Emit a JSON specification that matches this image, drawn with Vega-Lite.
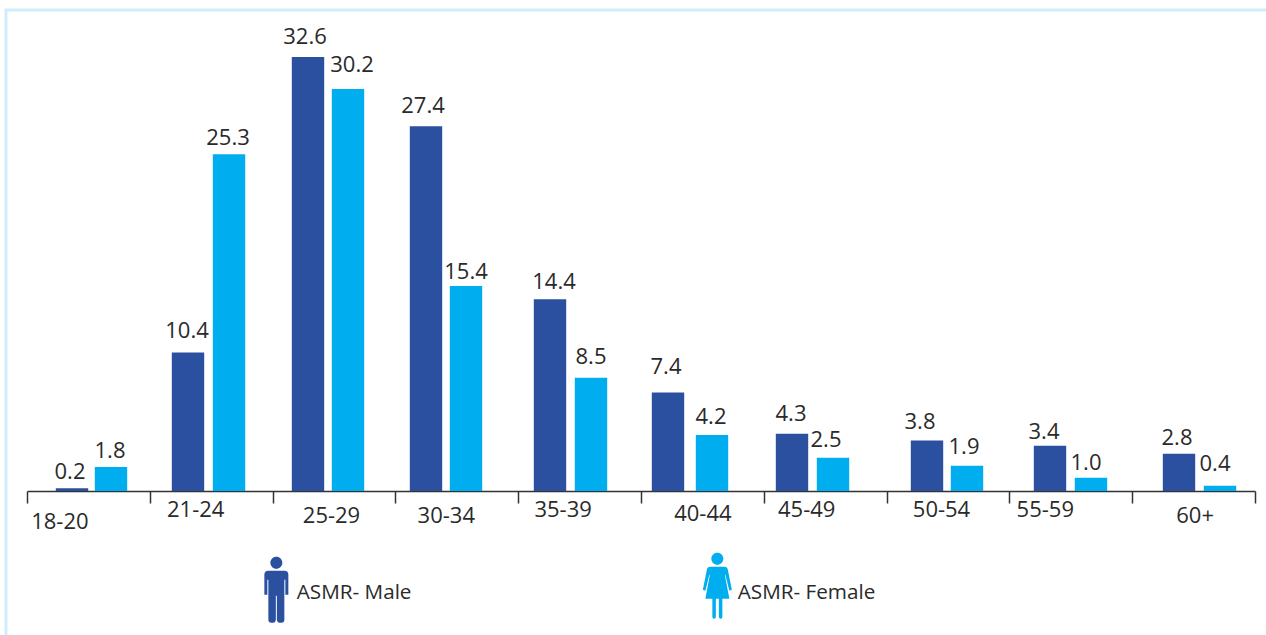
{
"$schema":"https://vega.github.io/schema/vega-lite/v6.json",
"autosize":{"type":"none"},
"padding":{"left":6,"top":10,"right":0,"bottom":0},
"width":1270,"height":640,
"background":"white",
"config":{"view":{"stroke":"#cdeefc","strokeWidth":3},"font":"Open Sans"},
"data":{"values":[
{"age":"18-20","sex":"ASMR- Male","value":0.2},{"age":"18-20","sex":"ASMR- Female","value":1.8},
{"age":"21-24","sex":"ASMR- Male","value":10.4},{"age":"21-24","sex":"ASMR- Female","value":25.3},
{"age":"25-29","sex":"ASMR- Male","value":32.6},{"age":"25-29","sex":"ASMR- Female","value":30.2},
{"age":"30-34","sex":"ASMR- Male","value":27.4},{"age":"30-34","sex":"ASMR- Female","value":15.4},
{"age":"35-39","sex":"ASMR- Male","value":14.4},{"age":"35-39","sex":"ASMR- Female","value":8.5},
{"age":"40-44","sex":"ASMR- Male","value":7.4},{"age":"40-44","sex":"ASMR- Female","value":4.2},
{"age":"45-49","sex":"ASMR- Male","value":4.3},{"age":"45-49","sex":"ASMR- Female","value":2.5},
{"age":"50-54","sex":"ASMR- Male","value":3.8},{"age":"50-54","sex":"ASMR- Female","value":1.9},
{"age":"55-59","sex":"ASMR- Male","value":3.4},{"age":"55-59","sex":"ASMR- Female","value":1.0},
{"age":"60+","sex":"ASMR- Male","value":2.8},{"age":"60+","sex":"ASMR- Female","value":0.4}
]},
"encoding":{
"x":{"field":"age","type":"nominal","sort":null,"title":null,"scale":{"range":[21,1249],"paddingInner":0,"paddingOuter":0},
"axis":{"orient":"bottom","offset":-159,"labelAngle":0,"tickBand":"extent","tickSize":12,"tickColor":"#333333","domainColor":"#333333","domainWidth":1.5,"tickWidth":1.5,"labelFontSize":22,"labelColor":"#2a2a2a","labelPadding":-4,"labelFont":"Open Sans",
"encoding":{"labels":{
"dx":{"value":{"expr":"({'18-20':-29,'21-24':-16,'25-29':-3,'30-34':-11,'35-39':-17,'40-44':0,'45-49':-19,'50-54':-7,'55-59':-26,'60+':1})[datum.value]"}},
"dy":{"value":{"expr":"({'18-20':12,'21-24':0,'25-29':6,'30-34':6,'35-39':0,'40-44':4,'45-49':0,'50-54':0,'55-59':0,'60+':6})[datum.value]"}}
}}}},
"y":{"field":"value","type":"quantitative","stack":null,"axis":null,"scale":{"domain":[0,36.14],"range":[481,0],"nice":false,"zero":true}},
"color":{"field":"sex","type":"nominal","sort":["ASMR- Male","ASMR- Female"],"title":null,"scale":{"domain":["ASMR- Male","ASMR- Female"],"range":["#2b50a0","#00aeef"]},
"legend":{"orient":"none","legendX":260,"legendY":572,"direction":"horizontal","symbolSize":4,"labelFontSize":20.7,"labelColor":"#2a2a2a","labelFont":"Open Sans","labelOffset":10,"columnPadding":290,"symbolStrokeWidth":0,"symbolOpacity":1,"padding":0}}
},
"layer":[
{"mark":{"type":"bar","width":32.4,"xOffset":{"expr":"({'18-20':[-16.4,22.6],'21-24':[-23.2,17.8],'25-29':[-26,14],'30-34':[-30.8,9.2],'35-39':[-29.6,11.4],'40-44':[-34.4,9.6],'45-49':[-33.2,7.8],'50-54':[-21,19],'55-59':[-20.8,20.2],'60+':[-14.6,26.4]})[datum.age][datum.sex=='ASMR- Male'?0:1]"}}},
{"mark":{"type":"text","align":"center","baseline":"middle","fontSize":22,
"dx":{"expr":"({'18-20':[-18.4,21.6],'21-24':[-24.2,16.8],'25-29':[-29,18],'30-34':[-33.8,9.2],'35-39':[-25.6,11.4],'40-44':[-36.4,8.6],'45-49':[-34.2,0.8],'50-54':[-28,16],'55-59':[-26.8,15.2],'60+':[-16.6,21.4]})[datum.age][datum.sex=='ASMR- Male'?0:1]"},
"dy":{"expr":"-({'18-20':[16,16],'21-24':[22,16],'25-29':[20,24],'30-34':[20,14],'35-39':[17,21],'40-44':[26,18],'45-49':[20,18],'50-54':[18,19],'55-59':[14,15],'60+':[16,22]})[datum.age][datum.sex=='ASMR- Male'?0:1]"}},
"encoding":{"text":{"field":"value","type":"quantitative","format":".1f"},"color":{"value":"#2a2a2a"}}},
{"mark":{"type":"point","filled":true,"size":0,"opacity":1},
"encoding":{
"shape":{"field":"sex","type":"nominal","sort":["ASMR- Male","ASMR- Female"],"title":null,
"scale":{"domain":["ASMR- Male","ASMR- Female"],"range":[
"M-8 -22H8Q12 -22 12 -18V2H9V-13H8V27Q8 30 5 30H3Q1 30 .5 27V3H-.5V27Q-1 30 -3 30H-5Q-8 30 -8 27V-13H-9V2H-12V-18Q-12 -22 -8 -22ZM-6 -30A6 6 0 1 0 6 -30A6 6 0 1 0 -6 -30ZM0 -40L0 -40Z",
"M-7 -26H7Q10 -26 10.5 -23L14.5 -3L12 -2L8 -18L7.5 -18L12 6H5V24Q5 26 3.5 26Q1.5 26 1.5 24V6H-1.5V24Q-1.5 26 -3.5 26Q-5 26 -5 24V6H-12L-7.5 -18L-8 -18L-12 -2L-14.5 -3L-10.5 -23Q-10 -26 -7 -26ZM-6 -34A6 6 0 1 0 6 -34A6 6 0 1 0 -6 -34ZM0 30L0 30Z"]},
"legend":{"orient":"none","legendX":260,"legendY":572,"direction":"horizontal","symbolSize":4,"labelFontSize":20.7,"labelColor":"#2a2a2a","labelFont":"Open Sans","labelOffset":10,"columnPadding":290,"symbolStrokeWidth":0,"symbolOpacity":1,"padding":0}
}
}}
]
}
